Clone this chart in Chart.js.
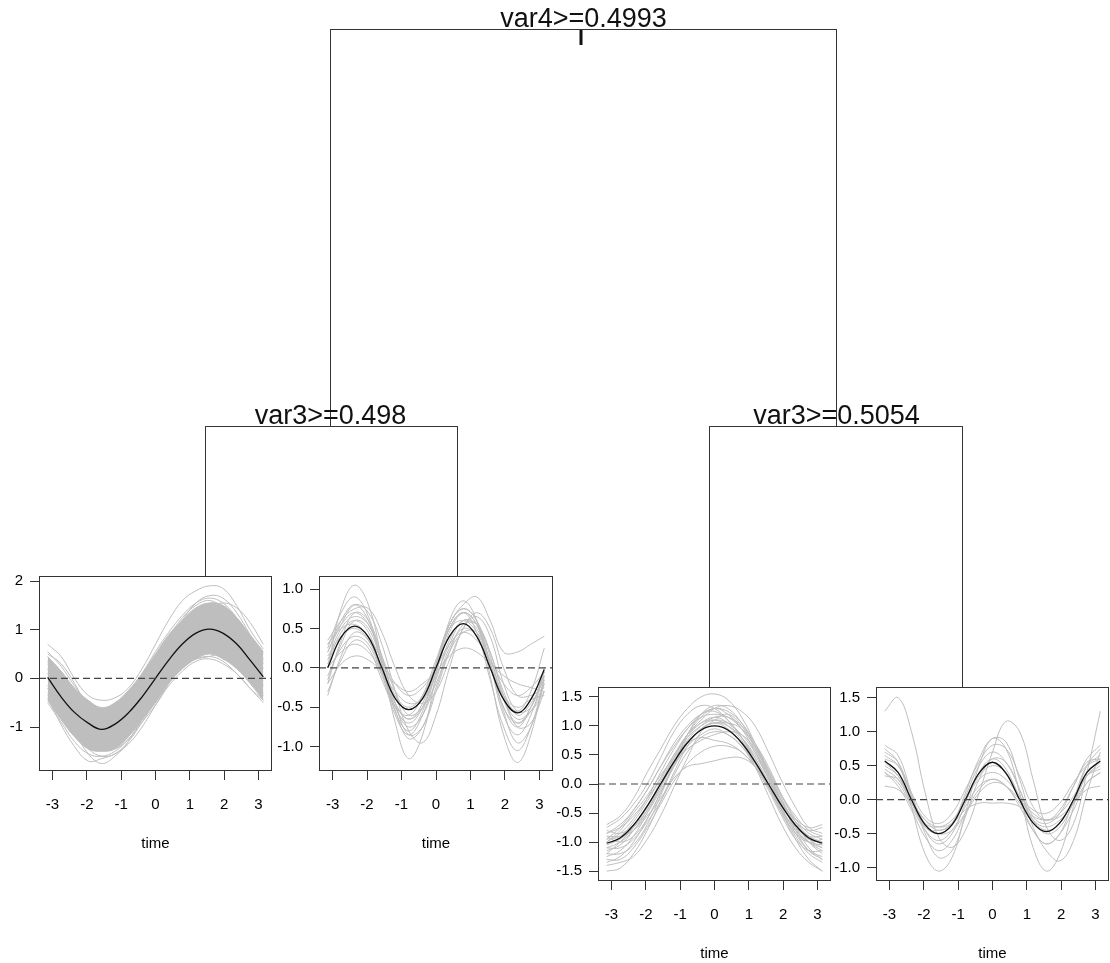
<!DOCTYPE html>
<html>
<head>
<meta charset="utf-8">
<script src="https://cdn.jsdelivr.net/npm/chart.js@4.4.0/dist/chart.umd.min.js"></script>
<style>
body { margin: 0; background: #fff; }
#page { position: relative; width: 1110px; height: 963px; overflow: hidden; }
canvas { position: absolute; }
</style>
</head>
<body>
<div id="page"><canvas id="tree" width="1110" height="963" style="left:0;top:0"></canvas></div>
<script>
// --- DATA ---
const splitLabels = ['var4>=0.4993', 'var3>=0.498', 'var3>=0.5054'];
const time = [-3.14, -2.75, -2.36, -1.96, -1.57, -1.18, -0.79, -0.39, 0, 0.39, 0.79, 1.18, 1.57, 1.96, 2.36, 2.75, 3.14];
const xRange = [-3.393, 3.393];
const xTicks = [-3, -2, -1, 0, 1, 2, 3];
const xTickLabels = ['-3', '-2', '-1', '0', '1', '2', '3'];

// leaf 1
const p1YRange = [-1.904, 2.103];
const p1YTicks = [-1, 0, 1, 2];
const p1YLabels = ['-1', '0', '1', '2'];
const p1Mean = [0.02, -0.38, -0.70, -0.92, -1.05, -0.94, -0.71, -0.38, 0.0, 0.38, 0.71, 0.93, 1.01, 0.93, 0.71, 0.38, 0.03];
const p1BandUpper = [0.45, 0.15, -0.2, -0.45, -0.6, -0.5, -0.25, 0.1, 0.5, 0.9, 1.2, 1.45, 1.55, 1.5, 1.25, 0.9, 0.55];
const p1BandLower = [-0.45, -0.85, -1.2, -1.45, -1.5, -1.45, -1.2, -0.85, -0.5, -0.1, 0.2, 0.4, 0.5, 0.4, 0.2, -0.1, -0.45];
const p1Curves = [
    [0.7, 0.45, 0.0, -0.35, -0.45, -0.4, -0.2, 0.2, 0.7, 1.2, 1.6, 1.8, 1.9, 1.85, 1.5, 1.0, 0.6],
    [-0.4, -0.95, -1.4, -1.7, -1.65, -1.55, -1.35, -1.0, -0.55, -0.1, 0.3, 0.4, 0.45, 0.35, 0.1, -0.2, -0.45],
    [0.5, 0.3, -0.1, -0.6, -0.9, -0.8, -0.5, -0.1, 0.35, 0.8, 1.2, 1.55, 1.7, 1.65, 1.35, 0.9, 0.4],
    [-0.2, -0.7, -1.1, -1.55, -1.75, -1.6, -1.3, -0.8, -0.3, 0.2, 0.55, 0.75, 0.8, 0.7, 0.4, 0.05, -0.35],
    [0.3, -0.1, -0.45, -0.65, -0.8, -0.75, -0.55, -0.25, 0.15, 0.55, 0.9, 1.1, 1.2, 1.15, 0.95, 0.6, 0.3],
    [-0.3, -0.6, -0.95, -1.25, -1.35, -1.25, -1.0, -0.6, -0.2, 0.2, 0.5, 0.65, 0.7, 0.65, 0.45, 0.2, -0.15],
    [0.1, -0.4, -0.85, -1.1, -1.2, -1.05, -0.8, -0.45, 0.0, 0.45, 0.85, 1.2, 1.45, 1.55, 1.45, 1.15, 0.7],
    [0.0, -0.3, -0.55, -0.8, -0.9, -0.85, -0.65, -0.35, 0.05, 0.4, 0.6, 0.65, 0.6, 0.5, 0.3, 0.1, -0.1],
    [-0.15, -0.5, -0.85, -1.0, -1.1, -1.0, -0.7, -0.4, -0.05, 0.2, 0.35, 0.4, 0.45, 0.5, 0.35, 0.15, -0.05],
    [0.2, -0.3, -0.8, -1.25, -1.45, -1.45, -1.25, -0.85, -0.35, 0.2, 0.7, 1.1, 1.35, 1.35, 1.1, 0.7, 0.2],
    [0.55, 0.25, -0.15, -0.5, -0.65, -0.55, -0.3, 0.1, 0.55, 0.95, 1.3, 1.55, 1.65, 1.55, 1.25, 0.85, 0.5],
    [-0.5, -0.9, -1.3, -1.55, -1.6, -1.5, -1.25, -0.9, -0.55, -0.15, 0.15, 0.35, 0.4, 0.3, 0.1, -0.2, -0.5],
    [0.35, 0.05, -0.3, -0.55, -0.7, -0.65, -0.45, -0.05, 0.4, 0.85, 1.25, 1.5, 1.6, 1.45, 1.1, 0.7, 0.35],
    [-0.35, -0.75, -1.15, -1.45, -1.6, -1.55, -1.3, -0.9, -0.45, 0.0, 0.3, 0.5, 0.55, 0.5, 0.3, 0.0, -0.3]
];

// leaf 2
const p2YRange = [-1.308, 1.165];
const p2YTicks = [-1, -0.5, 0, 0.5, 1];
const p2YLabels = ['-1.0', '-0.5', '0.0', '0.5', '1.0'];
const p2Mean = [0.0, 0.39, 0.53, 0.39, 0.0, -0.39, -0.53, -0.39, 0.0, 0.4, 0.56, 0.4, 0.0, -0.4, -0.57, -0.4, -0.02];
const p2Curves = [
    [0.0, 0.75, 1.05, 0.8, 0.1, -0.7, -1.15, -0.85, -0.1, 0.6, 0.85, 0.6, -0.1, -0.85, -1.2, -0.85, -0.1],
    [0.25, 0.7, 0.9, 0.65, 0.05, -0.55, -0.8, -0.55, 0.05, 0.55, 0.75, 0.6, 0.05, -0.6, -0.85, -0.6, -0.05],
    [0.3, 0.55, 0.7, 0.55, 0.1, -0.35, -0.5, -0.35, 0.05, 0.55, 0.8, 0.9, 0.6, 0.2, 0.2, 0.3, 0.4],
    [-0.2, 0.05, 0.15, 0.1, -0.05, -0.2, -0.3, -0.2, -0.05, 0.15, 0.25, 0.2, 0.05, -0.1, -0.2, -0.25, -0.3],
    [-0.35, 0.15, 0.45, 0.35, -0.05, -0.5, -0.75, -0.6, -0.15, 0.35, 0.6, 0.5, 0.05, -0.5, -0.75, -0.5, -0.1],
    [0.35, 0.6, 0.75, 0.75, 0.45, 0.0, -0.35, -0.45, -0.3, 0.1, 0.5, 0.7, 0.5, 0.0, -0.35, -0.35, -0.25],
    [-0.15, 0.3, 0.6, 0.5, 0.05, -0.45, -0.65, -0.5, -0.05, 0.45, 0.7, 0.55, 0.05, -0.55, -0.95, -0.75, -0.2],
    [0.1, 0.5, 0.65, 0.55, 0.15, -0.3, -0.6, -0.5, -0.2, 0.25, 0.5, 0.4, 0.0, -0.4, -0.65, -0.55, -0.3],
    [0.0, 0.2, 0.3, 0.2, -0.05, -0.3, -0.45, -0.4, -0.1, 0.3, 0.6, 0.55, 0.2, -0.3, -0.6, -0.45, -0.15],
    [0.2, 0.55, 0.8, 0.7, 0.3, -0.3, -0.8, -0.95, -0.6, 0.0, 0.5, 0.65, 0.4, -0.2, -0.55, -0.5, 0.0],
    [-0.1, 0.25, 0.4, 0.3, -0.1, -0.55, -0.9, -0.75, -0.25, 0.2, 0.45, 0.45, 0.1, -0.35, -0.55, -0.3, 0.25],
    [0.05, 0.45, 0.6, 0.45, -0.05, -0.6, -0.85, -0.6, -0.05, 0.5, 0.7, 0.45, -0.15, -0.75, -1.05, -0.75, -0.15],
    [0.3, 0.5, 0.55, 0.4, 0.1, -0.2, -0.35, -0.25, 0.0, 0.3, 0.45, 0.35, 0.1, -0.2, -0.35, -0.25, -0.05],
    [-0.3, 0.1, 0.35, 0.25, -0.15, -0.5, -0.6, -0.35, 0.1, 0.5, 0.6, 0.45, 0.05, -0.35, -0.5, -0.4, -0.35],
    [0.2, 0.6, 0.8, 0.6, 0.05, -0.5, -0.7, -0.5, 0.0, 0.5, 0.7, 0.55, 0.05, -0.5, -0.7, -0.5, -0.05],
    [-0.2, 0.35, 0.7, 0.6, 0.15, -0.45, -0.85, -0.75, -0.3, 0.2, 0.55, 0.55, 0.2, -0.35, -0.75, -0.7, -0.3],
    [0.15, 0.4, 0.5, 0.35, -0.05, -0.45, -0.65, -0.45, 0.05, 0.55, 0.75, 0.6, 0.15, -0.4, -0.7, -0.55, -0.2]
];

// leaf 3
const p3YRange = [-1.67, 1.67];
const p3YTicks = [-1.5, -1, -0.5, 0, 0.5, 1, 1.5];
const p3YLabels = ['-1.5', '-1.0', '-0.5', '0.0', '0.5', '1.0', '1.5'];
const p3Mean = [-1.02, -0.93, -0.71, -0.38, 0.0, 0.38, 0.71, 0.93, 1.0, 0.93, 0.71, 0.38, 0.0, -0.38, -0.71, -0.93, -1.02];
const p3Curves = [
    [-0.7, -0.55, -0.25, 0.2, 0.6, 1.0, 1.3, 1.5, 1.55, 1.45, 1.15, 0.7, 0.2, -0.3, -0.65, -0.8, -0.75],
    [-1.5, -1.45, -1.2, -0.8, -0.3, 0.2, 0.65, 0.95, 1.05, 0.95, 0.7, 0.3, -0.2, -0.7, -1.1, -1.35, -1.5],
    [-0.9, -0.9, -0.8, -0.55, -0.25, 0.1, 0.3, 0.35, 0.4, 0.45, 0.45, 0.3, 0.0, -0.35, -0.7, -0.9, -1.0],
    [-1.2, -1.2, -1.05, -0.7, -0.2, 0.35, 0.85, 1.2, 1.35, 1.3, 1.05, 0.65, 0.15, -0.4, -0.85, -1.15, -1.25],
    [-0.85, -0.7, -0.45, -0.1, 0.3, 0.7, 1.0, 1.2, 1.25, 1.1, 0.8, 0.4, -0.05, -0.45, -0.75, -0.9, -0.9],
    [-1.3, -1.3, -1.1, -0.75, -0.35, 0.05, 0.35, 0.55, 0.65, 0.65, 0.55, 0.3, -0.05, -0.5, -0.95, -1.3, -1.5],
    [-0.95, -0.75, -0.45, -0.1, 0.3, 0.65, 0.95, 1.15, 1.2, 1.15, 0.95, 0.65, 0.25, -0.2, -0.6, -0.85, -0.95],
    [-1.1, -1.1, -0.95, -0.65, -0.3, 0.15, 0.55, 0.8, 0.9, 0.85, 0.65, 0.3, -0.1, -0.55, -0.95, -1.15, -1.15],
    [-0.8, -0.85, -0.7, -0.4, 0.05, 0.45, 0.85, 1.1, 1.3, 1.35, 1.25, 1.0, 0.55, 0.05, -0.4, -0.75, -0.85],
    [-1.0, -0.8, -0.5, -0.2, 0.15, 0.45, 0.7, 0.8, 0.75, 0.7, 0.55, 0.3, 0.0, -0.35, -0.7, -0.95, -1.1],
    [-1.4, -1.35, -1.25, -0.95, -0.55, -0.05, 0.45, 0.9, 1.1, 1.2, 1.0, 0.6, 0.1, -0.45, -0.9, -1.2, -1.35],
    [-0.75, -0.6, -0.35, 0.0, 0.45, 0.9, 1.2, 1.35, 1.3, 1.1, 0.8, 0.45, 0.05, -0.35, -0.6, -0.75, -0.7],
    [-1.2, -1.0, -0.75, -0.4, 0.0, 0.35, 0.6, 0.75, 0.85, 0.9, 0.85, 0.6, 0.2, -0.25, -0.75, -1.1, -1.3],
    [-0.9, -1.0, -0.9, -0.6, -0.15, 0.35, 0.8, 1.05, 1.1, 1.0, 0.75, 0.4, -0.05, -0.5, -0.85, -1.0, -0.95],
    [-1.05, -0.95, -0.75, -0.45, -0.05, 0.35, 0.7, 0.95, 1.05, 1.0, 0.8, 0.5, 0.1, -0.3, -0.65, -0.9, -1.05],
    [-0.95, -0.9, -0.65, -0.3, 0.1, 0.5, 0.8, 1.0, 1.1, 1.05, 0.85, 0.55, 0.15, -0.3, -0.7, -0.95, -1.0],
    [-1.1, -1.0, -0.8, -0.5, -0.1, 0.3, 0.65, 0.85, 0.95, 0.85, 0.65, 0.35, -0.05, -0.45, -0.8, -1.0, -1.1],
    [-1.25, -1.15, -0.9, -0.5, -0.05, 0.4, 0.75, 1.0, 1.15, 1.15, 1.0, 0.7, 0.3, -0.2, -0.65, -1.0, -1.2],
    [-1.0, -0.85, -0.6, -0.25, 0.2, 0.6, 0.95, 1.2, 1.3, 1.25, 1.05, 0.7, 0.25, -0.2, -0.55, -0.8, -0.9],
    [-1.35, -1.25, -1.0, -0.6, -0.15, 0.3, 0.7, 0.95, 1.05, 1.05, 0.95, 0.65, 0.2, -0.3, -0.8, -1.15, -1.3],
    [-0.85, -0.75, -0.55, -0.25, 0.1, 0.5, 0.85, 1.05, 1.15, 1.05, 0.8, 0.45, 0.0, -0.45, -0.8, -1.0, -1.05],
    [-1.15, -1.05, -0.8, -0.45, 0.0, 0.45, 0.85, 1.15, 1.3, 1.2, 0.95, 0.55, 0.1, -0.35, -0.75, -1.0, -1.15]
];

// leaf 4
const p4YRange = [-1.195, 1.656];
const p4YTicks = [-1, -0.5, 0, 0.5, 1, 1.5];
const p4YLabels = ['-1.0', '-0.5', '0.0', '0.5', '1.0', '1.5'];
const p4Mean = [0.57, 0.4, 0.0, -0.37, -0.5, -0.37, 0.0, 0.39, 0.55, 0.39, 0.0, -0.34, -0.47, -0.34, 0.0, 0.4, 0.57];
const p4Curves = [
    [1.3, 1.5, 1.0, 0.1, -0.55, -0.7, -0.45, 0.1, 0.7, 1.15, 1.0, 0.3, -0.4, -0.6, -0.35, 0.4, 1.3],
    [0.75, 0.55, -0.1, -0.8, -1.05, -0.85, -0.2, 0.5, 0.9, 0.75, 0.1, -0.7, -1.05, -0.8, -0.1, 0.5, 0.75],
    [0.8, 0.65, 0.1, -0.4, -0.45, -0.35, 0.1, 0.6, 0.9, 0.85, 0.3, -0.25, -0.35, -0.2, 0.2, 0.6, 0.8],
    [0.2, 0.15, -0.05, -0.3, -0.4, -0.35, -0.15, -0.05, -0.05, -0.05, -0.1, -0.25, -0.3, -0.25, -0.05, 0.15, 0.2],
    [0.45, 0.3, -0.05, -0.35, -0.4, -0.3, 0.0, 0.35, 0.5, 0.4, 0.05, -0.3, -0.45, -0.35, 0.0, 0.35, 0.45],
    [0.65, 0.5, 0.05, -0.45, -0.65, -0.5, -0.05, 0.4, 0.6, 0.45, 0.0, -0.45, -0.65, -0.5, 0.0, 0.5, 0.65],
    [0.4, 0.25, -0.1, -0.45, -0.6, -0.45, -0.1, 0.2, 0.3, 0.2, -0.05, -0.3, -0.4, -0.3, -0.05, 0.25, 0.4],
    [0.5, 0.35, 0.0, -0.35, -0.5, -0.45, -0.2, 0.1, 0.25, 0.2, 0.0, -0.2, -0.3, -0.2, 0.05, 0.35, 0.5],
    [0.7, 0.55, 0.05, -0.5, -0.85, -0.75, -0.25, 0.3, 0.6, 0.55, 0.15, -0.4, -0.75, -0.9, -0.6, 0.1, 0.7],
    [0.35, 0.3, 0.0, -0.3, -0.45, -0.35, 0.0, 0.3, 0.4, 0.3, 0.05, -0.15, -0.2, -0.05, 0.25, 0.5, 0.6],
    [0.55, 0.35, -0.05, -0.4, -0.5, -0.35, 0.05, 0.5, 0.7, 0.55, 0.15, -0.3, -0.5, -0.4, -0.05, 0.35, 0.55],
    [0.6, 0.5, 0.1, -0.25, -0.35, -0.2, 0.15, 0.55, 0.8, 0.75, 0.35, -0.1, -0.3, -0.15, 0.2, 0.55, 0.6],
    [0.4, 0.2, -0.15, -0.55, -0.75, -0.6, -0.2, 0.15, 0.3, 0.2, -0.1, -0.45, -0.65, -0.5, -0.15, 0.25, 0.4]
];

// --- LAYOUT (page pixels) ---
const FONT = 'Liberation Sans, Arial, Helvetica, sans-serif';
const GREY = '#bebebe';
const INK = '#333';
// tree: split nodes and where their branches end
const treeLayout = {
    splits: [
        { x: 583.5, y: 29.5, kids: [330.5, 836.5], kidTops: [426.5, 426.5] },
        { x: 330.5, y: 426.5, kids: [205.5, 457.5], kidTops: [576, 576] },
        { x: 836.5, y: 426.5, kids: [709.5, 962.5], kidTops: [687, 687] }
    ],
    rootMark: { x: 581, y0: 29, y1: 45 }
};
const boxes = [
    { l: 39, t: 576, r: 272, b: 771 },
    { l: 319, t: 576, r: 553, b: 771 },
    { l: 598, t: 687, r: 831, b: 881 },
    { l: 876, t: 687, r: 1109, b: 881 }
];

const page = document.getElementById('page');

// --- TREE ---
const treeSets = [];
treeLayout.splits.forEach(s => {
    treeSets.push({ data: [{ x: s.kids[0], y: s.y }, { x: s.kids[1], y: s.y }] });
    s.kids.forEach((kx, i) => {
        treeSets.push({ data: [{ x: kx, y: s.y }, { x: kx, y: s.kidTops[i] }] });
    });
});
treeSets.forEach(d => { d.borderColor = INK; d.borderWidth = 1; });
treeSets.push({
    data: [{ x: treeLayout.rootMark.x, y: treeLayout.rootMark.y0 }, { x: treeLayout.rootMark.x, y: treeLayout.rootMark.y1 }],
    borderColor: '#111', borderWidth: 3
});

const splitText = {
    id: 'splitText',
    afterDatasetsDraw(chart) {
        const ctx = chart.ctx;
        ctx.save();
        ctx.fillStyle = '#111';
        ctx.font = '27px ' + FONT;
        ctx.textAlign = 'center';
        ctx.textBaseline = 'alphabetic';
        treeLayout.splits.forEach((s, i) => {
            ctx.fillText(splitLabels[i], chart.scales.x.getPixelForValue(s.x), chart.scales.y.getPixelForValue(s.y) - 3);
        });
        ctx.restore();
    }
};

new Chart(document.getElementById('tree'), {
    type: 'scatter',
    data: { datasets: treeSets },
    options: {
        responsive: false,
        animation: false,
        showLine: true,
        layout: { padding: 0 },
        elements: { point: { radius: 0 }, line: { tension: 0 } },
        plugins: { legend: { display: false }, tooltip: { enabled: false } },
        scales: {
            x: { type: 'linear', min: 0, max: 1110, display: false },
            y: { type: 'linear', min: 0, max: 963, reverse: true, display: false }
        }
    },
    plugins: [splitText]
});

// --- LEAF PANELS ---
const frameBox = {
    id: 'frameBox',
    afterDatasetsDraw(chart) {
        const a = chart.chartArea;
        const ctx = chart.ctx;
        ctx.save();
        ctx.strokeStyle = INK;
        ctx.lineWidth = 1;
        ctx.strokeRect(Math.round(a.left) + 0.5, Math.round(a.top) + 0.5, Math.round(a.right - a.left) - 1, Math.round(a.bottom - a.top) - 1);
        ctx.restore();
    }
};

const panels = [
    { mean: p1Mean, curves: p1Curves, band: [p1BandLower, p1BandUpper], yRange: p1YRange, yTicks: p1YTicks, yLabels: p1YLabels },
    { mean: p2Mean, curves: p2Curves, yRange: p2YRange, yTicks: p2YTicks, yLabels: p2YLabels },
    { mean: p3Mean, curves: p3Curves, yRange: p3YRange, yTicks: p3YTicks, yLabels: p3YLabels },
    { mean: p4Mean, curves: p4Curves, yRange: p4YRange, yTicks: p4YTicks, yLabels: p4YLabels }
];

const pad = { l: 45, t: 20, r: 20, b: 82 };
const pts = arr => time.map((t, i) => ({ x: t, y: arr[i] }));

panels.forEach((p, k) => {
    const box = boxes[k];
    const c = document.createElement('canvas');
    c.width = (box.r - box.l) + pad.l + pad.r;
    c.height = (box.b - box.t) + pad.t + pad.b;
    c.style.left = (box.l - pad.l) + 'px';
    c.style.top = (box.t - pad.t) + 'px';
    page.appendChild(c);

    const datasets = [
        { data: [{ x: xRange[0], y: 0 }, { x: xRange[1], y: 0 }], borderColor: '#444', borderDash: [7, 4], borderWidth: 1.2, tension: 0, order: 0 },
        { data: pts(p.mean), borderColor: '#111', borderWidth: 1.3, order: 1 }
    ];
    if (p.band) {
        datasets.push({ data: pts(p.band[0]), borderColor: GREY, order: 3 });
        datasets.push({ data: pts(p.band[1]), borderColor: GREY, backgroundColor: GREY, fill: '-1', order: 3 });
    }
    p.curves.forEach(a => datasets.push({ data: pts(a), borderColor: GREY, order: 2 }));

    const tickFont = { family: FONT, size: 15 };
    new Chart(c, {
        type: 'line',
        data: { datasets },
        options: {
            responsive: false,
            animation: false,
            layout: { padding: { left: 0, top: pad.t, right: pad.r, bottom: 0 } },
            elements: { point: { radius: 0 }, line: { tension: 0.4, borderWidth: 1 } },
            plugins: { legend: { display: false }, tooltip: { enabled: false } },
            scales: {
                x: {
                    type: 'linear', min: xRange[0], max: xRange[1],
                    afterBuildTicks: s => { s.ticks = xTicks.map(v => ({ value: v })); },
                    afterFit: s => { s.height = pad.b; },
                    grid: { drawOnChartArea: false, tickLength: 9, color: INK },
                    border: { display: false },
                    ticks: { padding: 16, color: '#000', font: tickFont, maxRotation: 0, autoSkip: false,
                        callback: v => xTickLabels[xTicks.indexOf(v)] },
                    title: { display: true, text: 'time', color: '#000', font: tickFont, padding: 0 }
                },
                y: {
                    type: 'linear', min: p.yRange[0], max: p.yRange[1],
                    afterBuildTicks: s => { s.ticks = p.yTicks.map(v => ({ value: v })); },
                    afterFit: s => { s.width = pad.l; },
                    grid: { drawOnChartArea: false, tickLength: 9, color: INK },
                    border: { display: false },
                    ticks: { padding: 7, color: '#000', font: tickFont, autoSkip: false,
                        callback: v => p.yLabels[p.yTicks.indexOf(v)] }
                }
            }
        },
        plugins: [frameBox]
    });
});
</script>
</body>
</html>
